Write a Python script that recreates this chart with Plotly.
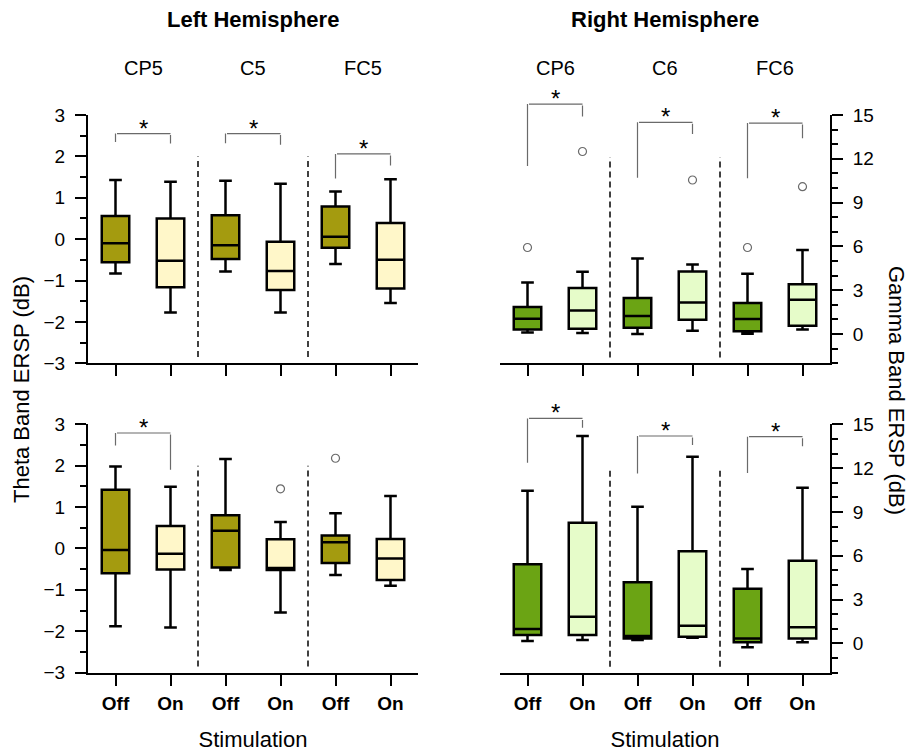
import plotly.graph_objects as go

# ---------------------------------------------------------------- data
positions = [1, 2, 3, 4, 5, 6]
stim_labels = ["Off", "On", "Off", "On", "Off", "On"]
left_channels = ["CP5", "C5", "FC5"]
right_channels = ["CP6", "C6", "FC6"]

# Theta band ERSP (dB), left hemisphere, upper row  (order: CP5 Off/On, C5 Off/On, FC5 Off/On)
theta_up_low = [-0.83, -1.77, -0.78, -1.77, -0.60, -1.54]
theta_up_q1 = [-0.56, -1.16, -0.48, -1.23, -0.21, -1.19]
theta_up_med = [-0.10, -0.52, -0.15, -0.77, 0.06, -0.50]
theta_up_q3 = [0.56, 0.50, 0.58, -0.06, 0.79, 0.39]
theta_up_high = [1.43, 1.39, 1.41, 1.34, 1.15, 1.45]
theta_up_out_x = []
theta_up_out_y = []

# Theta band ERSP (dB), left hemisphere, lower row
theta_lo_low = [-1.88, -1.91, -0.52, -1.55, -0.64, -0.90]
theta_lo_q1 = [-0.60, -0.51, -0.46, -0.52, -0.35, -0.76]
theta_lo_med = [-0.04, -0.13, 0.43, -0.47, 0.15, -0.24]
theta_lo_q3 = [1.42, 0.54, 0.80, 0.22, 0.31, 0.23]
theta_lo_high = [1.98, 1.49, 2.16, 0.64, 0.85, 1.27]
theta_lo_out_x = [4, 5]
theta_lo_out_y = [1.44, 2.18]

# Gamma band ERSP (dB), right hemisphere, upper row (order: CP6 Off/On, C6 Off/On, FC6 Off/On)
gamma_up_low = [0.11, 0.07, 0.00, 0.23, 0.02, 0.32]
gamma_up_q1 = [0.32, 0.36, 0.43, 0.98, 0.20, 0.57]
gamma_up_med = [1.05, 1.62, 1.23, 2.16, 1.03, 2.35]
gamma_up_q3 = [1.85, 3.15, 2.47, 4.29, 2.12, 3.42]
gamma_up_high = [3.53, 4.27, 5.18, 4.77, 4.13, 5.75]
gamma_up_out_x = [1, 2, 4, 5, 6]
gamma_up_out_y = [5.93, 12.5, 10.55, 5.93, 10.09]

# Gamma band ERSP (dB), right hemisphere, lower row
gamma_lo_low = [0.16, 0.23, 0.23, 0.38, -0.27, 0.07]
gamma_lo_q1 = [0.57, 0.57, 0.34, 0.45, 0.07, 0.34]
gamma_lo_med = [0.98, 1.82, 0.50, 1.21, 0.34, 1.10]
gamma_lo_q3 = [5.41, 8.26, 4.18, 6.30, 3.74, 5.66]
gamma_lo_high = [10.45, 14.20, 9.36, 12.78, 5.09, 10.66]
gamma_lo_out_x = []
gamma_lo_out_y = []

# Significance brackets: (Off position, On position, bar level, left leg end, right leg end)
theta_up_sig = [(1, 2, 2.55, 2.31, 2.31), (3, 4, 2.55, 2.28, 2.28), (5, 6, 2.06, 1.43, 1.78)]
theta_lo_sig = [(1, 2, 2.79, 2.45, 1.90)]
gamma_up_sig = [(1, 2, 15.75, 11.4, 14.9), (3, 4, 14.5, 10.6, 13.7), (5, 6, 14.45, 10.57, 13.4)]
gamma_lo_sig = [(1, 2, 15.4, 12.26, 14.77), (3, 4, 14.2, 11.53, 13.58), (5, 6, 14.15, 11.57, 13.5)]

THETA_RANGE = [-3, 3]
GAMMA_RANGE = [-2, 15]

# ---------------------------------------------------------------- styling
FONT = "Liberation Sans, Arial, sans-serif"
OLIVE, CREAM = "#a49b0f", "#fff7c9"
GREEN, MINT = "#6ba414", "#e6fcc9"
BRACKET = "#6a6a6a"
W, H = 914, 752

X_LEFT = [88 / W, 418 / W]
X_RIGHT = [500 / W, 830 / W]
Y_UP = [1 - 363.3 / H, 1 - 115.0 / H]
Y_LO = [1 - 672.6 / H, 1 - 424.3 / H]

panels = [
    dict(xa="x", ya="y", low=theta_up_low, q1=theta_up_q1, med=theta_up_med, q3=theta_up_q3,
         high=theta_up_high, ox=theta_up_out_x, oy=theta_up_out_y, sig=theta_up_sig,
         colors=(OLIVE, CREAM), rng=THETA_RANGE, sep=(-2.85, 2.0)),
    dict(xa="x2", ya="y2", low=gamma_up_low, q1=gamma_up_q1, med=gamma_up_med, q3=gamma_up_q3,
         high=gamma_up_high, ox=gamma_up_out_x, oy=gamma_up_out_y, sig=gamma_up_sig,
         colors=(GREEN, MINT), rng=GAMMA_RANGE, sep=(-1.6, 12.1)),
    dict(xa="x3", ya="y3", low=theta_lo_low, q1=theta_lo_q1, med=theta_lo_med, q3=theta_lo_q3,
         high=theta_lo_high, ox=theta_lo_out_x, oy=theta_lo_out_y, sig=theta_lo_sig,
         colors=(OLIVE, CREAM), rng=THETA_RANGE, sep=(-2.85, 2.0)),
    dict(xa="x4", ya="y4", low=gamma_lo_low, q1=gamma_lo_q1, med=gamma_lo_med, q3=gamma_lo_q3,
         high=gamma_lo_high, ox=gamma_lo_out_x, oy=gamma_lo_out_y, sig=gamma_lo_sig,
         colors=(GREEN, MINT), rng=GAMMA_RANGE, sep=(-1.6, 12.1)),
]

fig = go.Figure()
shapes = []
annotations = []


def to_domain(v, rng):
    # brackets may sit above the axis top, so they are placed in axis-domain units
    return (v - rng[0]) / (rng[1] - rng[0])


for p in panels:
    # Off boxes at odd positions, On boxes at even positions
    for start, color in zip((0, 1), p["colors"]):
        idx = list(range(start, 6, 2))
        fig.add_trace(go.Box(
            x=[positions[i] for i in idx],
            q1=[p["q1"][i] for i in idx],
            median=[p["med"][i] for i in idx],
            q3=[p["q3"][i] for i in idx],
            lowerfence=[p["low"][i] for i in idx],
            upperfence=[p["high"][i] for i in idx],
            width=0.5, whiskerwidth=0.46,
            fillcolor=color, line=dict(color="black", width=2.5),
            boxpoints=False, hoverinfo="skip", showlegend=False,
            xaxis=p["xa"], yaxis=p["ya"],
        ))
    # outliers
    if p["ox"]:
        fig.add_trace(go.Scatter(
            x=p["ox"], y=p["oy"], mode="markers", cliponaxis=False,
            marker=dict(symbol="circle-open", size=8, color=BRACKET, line=dict(width=1.2)),
            hoverinfo="skip", showlegend=False, xaxis=p["xa"], yaxis=p["ya"],
        ))
    # dashed separators between channel groups
    for k in range(1, 3):
        xs = (positions[2 * k - 1] + positions[2 * k]) / 2
        shapes.append(dict(type="line", xref=p["xa"], yref=p["ya"], x0=xs, x1=xs,
                           y0=p["sep"][0], y1=p["sep"][1],
                           line=dict(color="black", width=1.5, dash="6px,4px")))
    # significance brackets and stars
    ydom = p["ya"] + " domain"
    for (a, b, top, lend, rend) in p["sig"]:
        for (x0, y0, x1, y1) in [(a, lend, a, top), (a, top, b, top), (b, top, b, rend)]:
            annotations.append(dict(
                x=x1, y=to_domain(y1, p["rng"]), ax=x0, ay=to_domain(y0, p["rng"]),
                xref=p["xa"], yref=ydom, axref=p["xa"], ayref=ydom, text="", showarrow=True,
                arrowhead=0, arrowwidth=1.2, arrowcolor=BRACKET, standoff=0, startstandoff=0,
            ))
        annotations.append(dict(
            x=(a + b) / 2, y=to_domain(top, p["rng"]), xref=p["xa"], yref=ydom, text="*",
            showarrow=False, xanchor="center", yanchor="bottom", yshift=-10,
            font=dict(family=FONT, size=24, color="black"),
        ))

# titles and channel labels
for dom, title in ((X_LEFT, "Left Hemisphere"), (X_RIGHT, "Right Hemisphere")):
    annotations.append(dict(x=sum(dom) / 2, y=1 - 20 / H, xref="paper", yref="paper",
                            text="<b>" + title + "</b>", showarrow=False,
                            xanchor="center", yanchor="middle",
                            font=dict(family=FONT, size=22, color="black")))
for k, (lc, rc) in enumerate(zip(left_channels, right_channels)):
    xc = (positions[2 * k] + positions[2 * k + 1]) / 2
    for xa, name in (("x", lc), ("x2", rc)):
        annotations.append(dict(x=xc, y=1 - 68 / H, xref=xa, yref="paper", text=name,
                                showarrow=False, xanchor="center", yanchor="middle",
                                font=dict(family=FONT, size=20, color="black")))

annotations.append(dict(x=22 / W, y=1 - 390 / H, xref="paper", yref="paper",
                        text="Theta Band ERSP (dB)", textangle=-90, showarrow=False,
                        xanchor="center", yanchor="middle",
                        font=dict(family=FONT, size=22, color="black")))
annotations.append(dict(x=896 / W, y=1 - 390 / H, xref="paper", yref="paper",
                        text="Gamma Band ERSP (dB)", textangle=90, showarrow=False,
                        xanchor="center", yanchor="middle",
                        font=dict(family=FONT, size=22, color="black")))

tick_font = dict(family=FONT, size=19, color="black")


def xaxis(domain, anchor, labels):
    ax = dict(domain=domain, anchor=anchor, range=[0.5, 6.5], tickmode="array",
              tickvals=positions, ticktext=stim_labels, showticklabels=labels,
              ticks="outside", ticklen=11, tickwidth=2, tickcolor="black",
              ticklabelstandoff=2, automargin=False,
              showline=True, linewidth=2, linecolor="black", showgrid=False, zeroline=False,
              tickfont=dict(family=FONT, size=19, color="black", weight="bold"))
    if labels:
        ax["title"] = dict(text="Stimulation", standoff=25,
                           font=dict(family=FONT, size=22, color="black"))
    return ax


def value_axis(domain, anchor, rng, dtick, minor_dtick, side):
    return dict(domain=domain, anchor=anchor, side=side, range=rng, dtick=dtick, tick0=0,
                ticks="outside", ticklen=11, tickwidth=2, tickcolor="black",
                minor=dict(dtick=minor_dtick, tick0=0, ticks="outside", ticklen=6, tickwidth=2,
                           tickcolor="black", showgrid=False),
                ticklabelstandoff=6, automargin=False,
                showline=True, linewidth=2, linecolor="black", showgrid=False, zeroline=False,
                tickfont=tick_font)


fig.update_layout(
    width=W, height=H, autosize=False,
    margin=dict(l=0, r=0, t=0, b=0),
    paper_bgcolor="white", plot_bgcolor="white",
    boxmode="overlay",
    xaxis=xaxis(X_LEFT, "y", False),
    yaxis=value_axis(Y_UP, "x", THETA_RANGE, 1, 0.5, "left"),
    xaxis2=xaxis(X_RIGHT, "y2", False),
    yaxis2=value_axis(Y_UP, "x2", GAMMA_RANGE, 3, 1, "right"),
    xaxis3=xaxis(X_LEFT, "y3", True),
    yaxis3=value_axis(Y_LO, "x3", THETA_RANGE, 1, 0.5, "left"),
    xaxis4=xaxis(X_RIGHT, "y4", True),
    yaxis4=value_axis(Y_LO, "x4", GAMMA_RANGE, 3, 1, "right"),
    shapes=shapes, annotations=annotations,
    font=dict(family=FONT, color="black"),
)

fig.write_html("out.html")
